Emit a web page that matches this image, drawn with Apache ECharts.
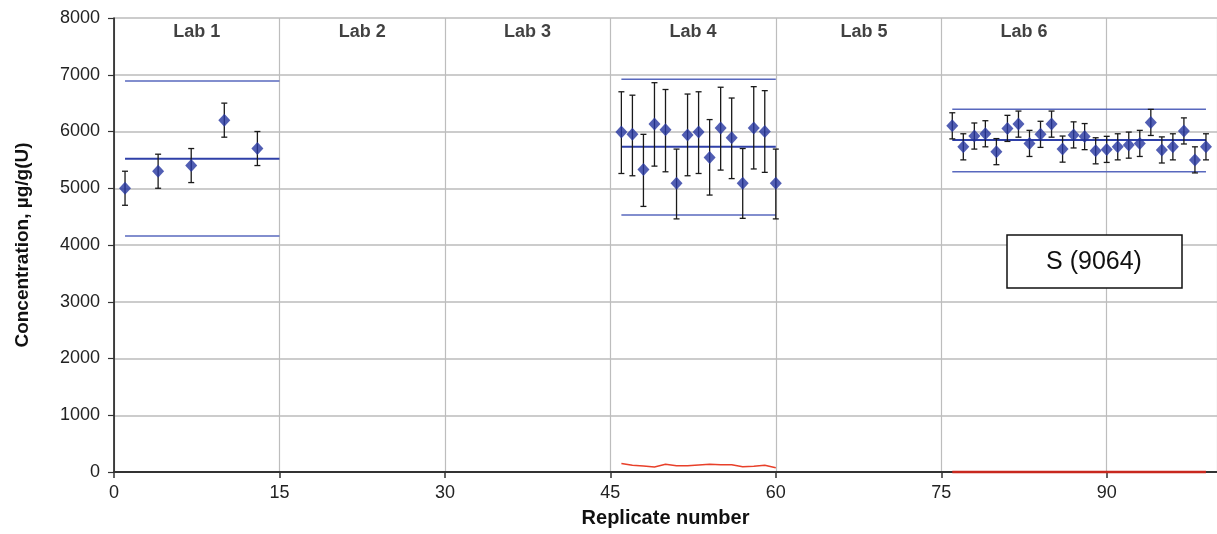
<!DOCTYPE html>
<html>
<head>
<meta charset="utf-8">
<script src="https://cdn.jsdelivr.net/npm/echarts@6/dist/echarts.min.js"></script>
<style>
html,body{margin:0;padding:0;background:#fff;}
#chart{width:1217px;height:534px;}
</style>
</head>
<body>
<div id="chart"></div>
<script>
// ---- Data ----
const labNames = ['Lab 1', 'Lab 2', 'Lab 3', 'Lab 4', 'Lab 5', 'Lab 6'];
const labNameX = [7.5, 22.5, 37.5, 52.5, 68, 82.5];
const labNameY = 7750;

const xTicks = [0, 15, 30, 45, 60, 75, 90];

// Lab 1
const lab1X = [1, 4, 7, 10, 13];
const lab1Y = [5000, 5300, 5400, 6200, 5700];
const lab1Err = [300, 300, 300, 300, 300];
const lab1Range = [1, 15];
const lab1Limits = [4160, 5520, 6890]; // lower, mean, upper

// Lab 4
const lab4X = [46, 47, 48, 49, 50, 51, 52, 53, 54, 55, 56, 57, 58, 59, 60];
const lab4Y = [5990, 5950, 5330, 6130, 6030, 5090, 5940, 5990, 5540, 6060, 5890, 5090, 6060, 6000, 5090];
const lab4Low = [5260, 5220, 4680, 5390, 5290, 4460, 5220, 5260, 4880, 5320, 5170, 4470, 5340, 5280, 4460];
const lab4High = [6700, 6640, 5950, 6860, 6740, 5690, 6660, 6700, 6210, 6780, 6590, 5700, 6790, 6720, 5690];
const lab4Range = [46, 60];
const lab4Limits = [4530, 5730, 6920];
const lab4Red = [150, 118, 106, 88, 135, 111, 111, 123, 135, 129, 129, 94, 100, 118, 76];

// Lab 6
const lab6X = [76, 77, 78, 79, 80, 81, 82, 83, 84, 85, 86, 87, 88, 89, 90, 91, 92, 93, 94, 95, 96, 97, 98, 99];
const lab6Y = [6100, 5730, 5920, 5960, 5645, 6055, 6130, 5790, 5950, 6130, 5690, 5940, 5910, 5660, 5685, 5730, 5760, 5790, 6160, 5675, 5730, 6010, 5500, 5730];
const lab6Err = [230, 230, 230, 230, 230, 230, 230, 230, 230, 230, 230, 230, 230, 230, 230, 230, 230, 230, 230, 230, 230, 230, 230, 230];
const lab6Range = [76, 99];
const lab6Limits = [5290, 5850, 6390];
const lab6Red = [0, 0, 0, 0, 0, 0, 0, 0, 0, 0, 0, 0, 0, 0, 0, 0, 0, 0, 0, 0, 0, 0, 0, 0];

// ---- Build ----
const FONT = "'Liberation Sans', Arial, Helvetica, sans-serif";
const PT = '#2536A0';

function errData(xs, lows, highs) {
  return xs.map((x, i) => [x, lows[i], highs[i]]);
}
function renderErr(params, api) {
  const x = api.value(0);
  const a = api.coord([x, api.value(2)]);
  const b = api.coord([x, api.value(1)]);
  const w = 3;
  const st = { stroke: '#1a1a1a', lineWidth: 1.3 };
  return {
    type: 'group',
    children: [
      { type: 'line', shape: { x1: a[0], y1: a[1], x2: b[0], y2: b[1] }, style: st },
      { type: 'line', shape: { x1: a[0] - w, y1: a[1], x2: a[0] + w, y2: a[1] }, style: st },
      { type: 'line', shape: { x1: b[0] - w, y1: b[1], x2: b[0] + w, y2: b[1] }, style: st }
    ]
  };
}
function limitSeries(range, limits) {
  return limits.map((v, k) => ({
    type: 'line',
    data: [[range[0], v], [range[1], v]],
    symbol: 'none',
    silent: true,
    lineStyle: { color: k === 1 ? '#2F40A8' : '#5868BE', width: k === 1 ? 2 : 1.5 },
    z: 3
  }));
}
function pointSeries(xs, ys) {
  return {
    type: 'scatter',
    data: xs.map((x, i) => [x, ys[i]]),
    symbol: 'diamond',
    symbolSize: [12, 13],
    itemStyle: { color: PT },
    z: 6
  };
}

const series = [];
series.push(...limitSeries(lab1Range, lab1Limits));
series.push(...limitSeries(lab4Range, lab4Limits));
series.push(...limitSeries(lab6Range, lab6Limits));
series.push({ type: 'custom', renderItem: renderErr, data: errData(lab1X, lab1Y.map((v, i) => v - lab1Err[i]), lab1Y.map((v, i) => v + lab1Err[i])), z: 5 });
series.push({ type: 'custom', renderItem: renderErr, data: errData(lab4X, lab4Low, lab4High), z: 5 });
series.push({ type: 'custom', renderItem: renderErr, data: errData(lab6X, lab6Y.map((v, i) => v - lab6Err[i]), lab6Y.map((v, i) => v + lab6Err[i])), z: 5 });
series.push(pointSeries(lab1X, lab1Y));
series.push(pointSeries(lab4X, lab4Y));
series.push(pointSeries(lab6X, lab6Y));
series.push({
  type: 'line', data: lab4X.map((x, i) => [x, lab4Red[i]]), symbol: 'none', silent: true,
  lineStyle: { color: '#E8402A', width: 1.5 }, z: 4
});
series.push({
  type: 'line', data: lab6X.map((x, i) => [x, lab6Red[i]]), symbol: 'none', silent: true, clip: false,
  lineStyle: { color: '#C8281E', width: 2.5 }, z: 4
});
series.push({
  type: 'scatter', data: labNameX.map((x, i) => [x, labNameY, labNames[i]]),
  symbolSize: 0, silent: true,
  label: { show: true, position: 'inside', formatter: p => p.data[2], color: '#111', fontFamily: FONT, fontSize: 18, fontWeight: 'bold' },
  z: 7
});

const chart = echarts.init(document.getElementById('chart'), null, { renderer: 'canvas' });
chart.setOption({
  animation: false,
  backgroundColor: '#fff',
  grid: { left: 114, top: 18, width: 1107, height: 454, containLabel: false },
  xAxis: {
    type: 'value', min: 0, max: 100, interval: 15,
    name: 'Replicate number', nameLocation: 'middle', nameGap: 36,
    nameTextStyle: { fontFamily: FONT, fontSize: 20, fontWeight: 'bold', color: '#111' },
    axisLine: { onZero: false, lineStyle: { color: '#333', width: 2 } },
    axisTick: { show: true, length: 6, lineStyle: { color: '#333', width: 1.5 } },
    axisLabel: { showMaxLabel: false, margin: 12, fontFamily: FONT, fontSize: 18, color: '#222' },
    splitLine: { show: true, lineStyle: { color: '#BDBDBD', width: 1.2 } }
  },
  yAxis: {
    type: 'value', min: 0, max: 8000, interval: 1000,
    name: 'Concentration, µg/g(U)', nameLocation: 'middle', nameGap: 82,
    nameTextStyle: { fontFamily: FONT, fontSize: 19, fontWeight: 'bold', color: '#111' },
    axisLine: { show: true, lineStyle: { color: '#111', width: 1.5 } },
    axisTick: { show: true, length: 6, lineStyle: { color: '#333', width: 1.2 } },
    axisLabel: { margin: 14, fontFamily: FONT, fontSize: 18, color: '#222', formatter: v => String(v) },
    splitLine: { show: true, lineStyle: { color: '#CCCCCC', width: 2 } }
  },
  graphic: [
    {
      type: 'rect', x: 1007, y: 235, z: 10,
      shape: { x: 0, y: 0, width: 175, height: 53 },
      style: { fill: '#fff', stroke: '#111', lineWidth: 1.5 }
    },
    {
      type: 'text', x: 1094, y: 262, z: 11,
      style: { text: 'S (9064)', font: '25px ' + FONT, fill: '#111', align: 'center', verticalAlign: 'middle' }
    }
  ],
  series: series
});
</script>
</body>
</html>
